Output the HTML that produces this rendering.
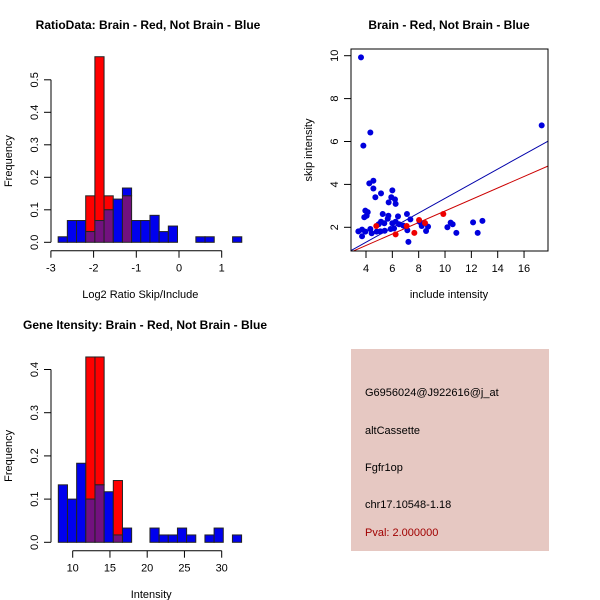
<!DOCTYPE html>
<html><head><meta charset="utf-8"><style>
html,body{margin:0;padding:0;background:#fff;}
svg{display:block;font-family:"Liberation Sans",sans-serif;}
</style></head><body>
<svg id="c" width="600" height="600" viewBox="0 0 600 600">
<rect width="600" height="600" fill="#fff"/>
<text x="148" y="29" font-size="12" font-weight="bold" text-anchor="middle">RatioData: Brain - Red, Not Brain - Blue</text>
<text x="449" y="29" font-size="12" font-weight="bold" text-anchor="middle">Brain - Red, Not Brain - Blue</text>
<text x="145" y="329" font-size="12" font-weight="bold" text-anchor="middle">Gene Itensity: Brain - Red, Not Brain - Blue</text>
<g id="p1"></g>
<g id="p2"></g>
<g id="p3"></g>
<g>
<rect x="351" y="349" width="198" height="202" fill="#e6c8c2"/>
<text x="365" y="396" font-size="11">G6956024@J922616@j_at</text>
<text x="365" y="434" font-size="11">altCassette</text>
<text x="365" y="471" font-size="11">Fgfr1op</text>
<text x="365" y="508" font-size="11">chr17.10548-1.18</text>
<text x="365" y="536" font-size="11" fill="#a00000">Pval: 2.000000</text>
</g>
</svg>
<script>
// Ratio histogram data
const ratioStart = -2.83, ratioWidth = 0.215;
const ratioBlue = [0.017,0.067,0.067,0.033,0.067,0.10,0.133,0.167,0.067,0.067,0.083,0.033,0.05,0,0,0.017,0.017,0,0,0.017];
const ratioRed  = [0,0,0,0.143,0.571,0.143,0,0.143,0,0,0,0,0,0,0,0,0,0,0,0];
const ratioXTicks = [-3,-2,-1,0,1];
const ratioYTicks = [0,0.1,0.2,0.3,0.4,0.5];
// Intensity histogram data
const intStart = 8.07, intWidth = 1.23;
const intBlue = [0.133,0.10,0.183,0.10,0.133,0.117,0.017,0.033,0,0,0.033,0.017,0.017,0.033,0.017,0,0.017,0.033,0,0.017];
const intRed  = [0,0,0,0.429,0.429,0,0.143,0,0,0,0,0,0,0,0,0,0,0,0,0];
const intXTicks = [10,15,20,25,30];
const intYTicks = [0,0.1,0.2,0.3,0.4];
// Scatter data
const blueX = [3.62,4.33,3.8,4.56,4.25,4.56,5.14,4.71,6.0,5.92,6.2,5.72,6.25,3.95,4.13,4.05,3.87,5.27,5.7,6.43,7.11,7.37,5.65,5.14,6.25,6.0,5.39,4.96,6.51,6.84,3.42,3.7,3.95,3.7,4.33,4.43,4.81,5.09,5.42,5.87,6.13,7.14,7.22,8.08,8.23,8.71,8.56,10.18,10.43,10.58,10.86,12.13,12.48,12.84,17.34];
const blueY = [9.92,6.42,5.81,4.17,4.05,3.81,3.58,3.40,3.72,3.40,3.30,3.16,3.09,2.78,2.71,2.54,2.47,2.62,2.54,2.51,2.62,2.37,2.40,2.26,2.26,2.19,2.19,2.14,2.14,2.08,1.81,1.89,1.80,1.58,1.92,1.72,1.80,1.81,1.84,1.92,1.95,1.86,1.32,2.25,2.06,2.03,1.83,2.0,2.22,2.14,1.74,2.23,1.74,2.30,6.75];
const redX = [4.78,6.25,7.09,7.67,8.03,8.48,9.87];
const redY = [2.06,1.67,2.06,1.74,2.34,2.2,2.62];
const blueLine = [0.341,-0.06];
const redLine = [0.268,0.08];
const scXTicks = [4,6,8,10,12,14,16];
const scYTicks = [2,4,6,8,10];

const NS="http://www.w3.org/2000/svg";
function mk(parent,tag,attrs,txt){const e=document.createElementNS(NS,tag);for(const k in attrs)e.setAttribute(k,attrs[k]);if(txt!==undefined)e.textContent=txt;parent.appendChild(e);return e;}

function hist(g,start,width,blue,red,xt,yt,xs,ys,xAxisY,yAxisX,xlabel,xlabelY,prefix){
  for(let i=0;i<blue.length;i++){
    const x0=xs(start+i*width), x1=xs(start+(i+1)*width);
    const b=blue[i], r=red[i], m=Math.min(b,r), mx=Math.max(b,r);
    if(mx<=0) continue;
    const top=b>=r?'#0000ee':'#ff0000';
    if(mx>m){
      const e=mk(g,'rect',{x:x0,y:ys(mx),width:x1-x0,height:ys(m)-ys(mx),fill:top,stroke:'#222','stroke-width':1});
      
      
    }
    if(m>0){
      const e=mk(g,'rect',{x:x0,y:ys(m),width:x1-x0,height:ys(0)-ys(m),fill:'#72117f',stroke:'#222','stroke-width':1});
      
      
    }
  }
  const ya=mk(g,'line',{x1:yAxisX,x2:yAxisX,y1:ys(yt[0]),y2:ys(yt[yt.length-1]),stroke:'#000'});
  
  
  yt.forEach(v=>{
    mk(g,'line',{x1:yAxisX-7,x2:yAxisX,y1:ys(v),y2:ys(v),stroke:'#000'});
    const t=mk(g,'text',{x:yAxisX-13,y:ys(v),'font-size':11,'text-anchor':'middle',transform:`rotate(-90 ${yAxisX-13} ${ys(v)})`},String(v===0?'0.0':v));
    
    
  });
  const xa=mk(g,'line',{x1:xs(xt[0]),x2:xs(xt[xt.length-1]),y1:xAxisY,y2:xAxisY,stroke:'#000'});
  
  
  xt.forEach(v=>{
    mk(g,'line',{x1:xs(v),x2:xs(v),y1:xAxisY,y2:xAxisY+7,stroke:'#000'});
    const t=mk(g,'text',{x:xs(v),y:xAxisY+21,'font-size':11,'text-anchor':'middle'},String(v));
    
    
  });
  const xl=mk(g,'text',{x:(xs(xt[0])+xs(xt[xt.length-1]))/2+4,y:xlabelY,'font-size':11,'text-anchor':'middle'},xlabel);
  
  
  const cy=(ys(yt[0])+ys(yt[yt.length-1]))/2;
  const yl=mk(g,'text',{x:12,y:cy,'font-size':11,'text-anchor':'middle',transform:`rotate(-90 12 ${cy})`},'Frequency');
  
  
}

// Plot 1
hist(document.getElementById('p1'),ratioStart,ratioWidth,ratioBlue,ratioRed,ratioXTicks,ratioYTicks,
  v=>179+v*42.7, v=>242.3-v*325, 250.7, 51, 'Log2 Ratio Skip/Include', 298, 'ratio');
// Plot 3
hist(document.getElementById('p3'),intStart,intWidth,intBlue,intRed,intXTicks,intYTicks,
  v=>72.7+(v-10)*7.45, v=>542.3-v*432, 550.7, 51, 'Intensity', 598, 'intensity');

// Plot 2 scatter
(function(){
  const g=document.getElementById('p2');
  const xs=v=>366+(v-4)*13.17, ys=v=>227.3-(v-2)*21.45;
  const L=351,R=548,T=49,B=251;
  mk(g,'defs',{}).innerHTML='<clipPath id="sc"><rect x="351" y="49" width="197" height="202"/></clipPath>';
  const cg=mk(g,'g',{'clip-path':'url(#sc)'});
  [[blueLine,'#0000aa','blue'],[redLine,'#cc0000','red']].forEach(([c,col,n])=>{
    const x0=2,x1=19;
    const e=mk(cg,'line',{x1:xs(x0),y1:ys(c[0]*x0+c[1]),x2:xs(x1),y2:ys(c[0]*x1+c[1]),stroke:col,'stroke-width':1});
    
    
  });
  blueX.forEach((x,i)=>{
    const e=mk(cg,'circle',{cx:xs(x),cy:ys(blueY[i]),r:3,fill:'#0000dd'});
    
    
  });
  redX.forEach((x,i)=>{
    const e=mk(cg,'circle',{cx:xs(x),cy:ys(redY[i]),r:3,fill:'#ee0000'});
    
    
  });
  const box=mk(g,'rect',{x:L,y:T,width:R-L,height:B-T,fill:'none',stroke:'#000'});
  
  
  scXTicks.forEach(v=>{
    mk(g,'line',{x1:xs(v),x2:xs(v),y1:B,y2:B+7,stroke:'#000'});
    const t=mk(g,'text',{x:xs(v),y:B+21,'font-size':11,'text-anchor':'middle'},String(v));
    
    
  });
  scYTicks.forEach(v=>{
    mk(g,'line',{x1:L-7,x2:L,y1:ys(v),y2:ys(v),stroke:'#000'});
    const t=mk(g,'text',{x:L-13,y:ys(v),'font-size':11,'text-anchor':'middle',transform:`rotate(-90 ${L-13} ${ys(v)})`},String(v));
    
    
  });
  const xl=mk(g,'text',{x:449,y:298,'font-size':11,'text-anchor':'middle'},'include intensity');
  
  
  const yl=mk(g,'text',{x:312,y:150,'font-size':11,'text-anchor':'middle',transform:'rotate(-90 312 150)'},'skip intensity');
  
  
})();
</script>
</body></html>
